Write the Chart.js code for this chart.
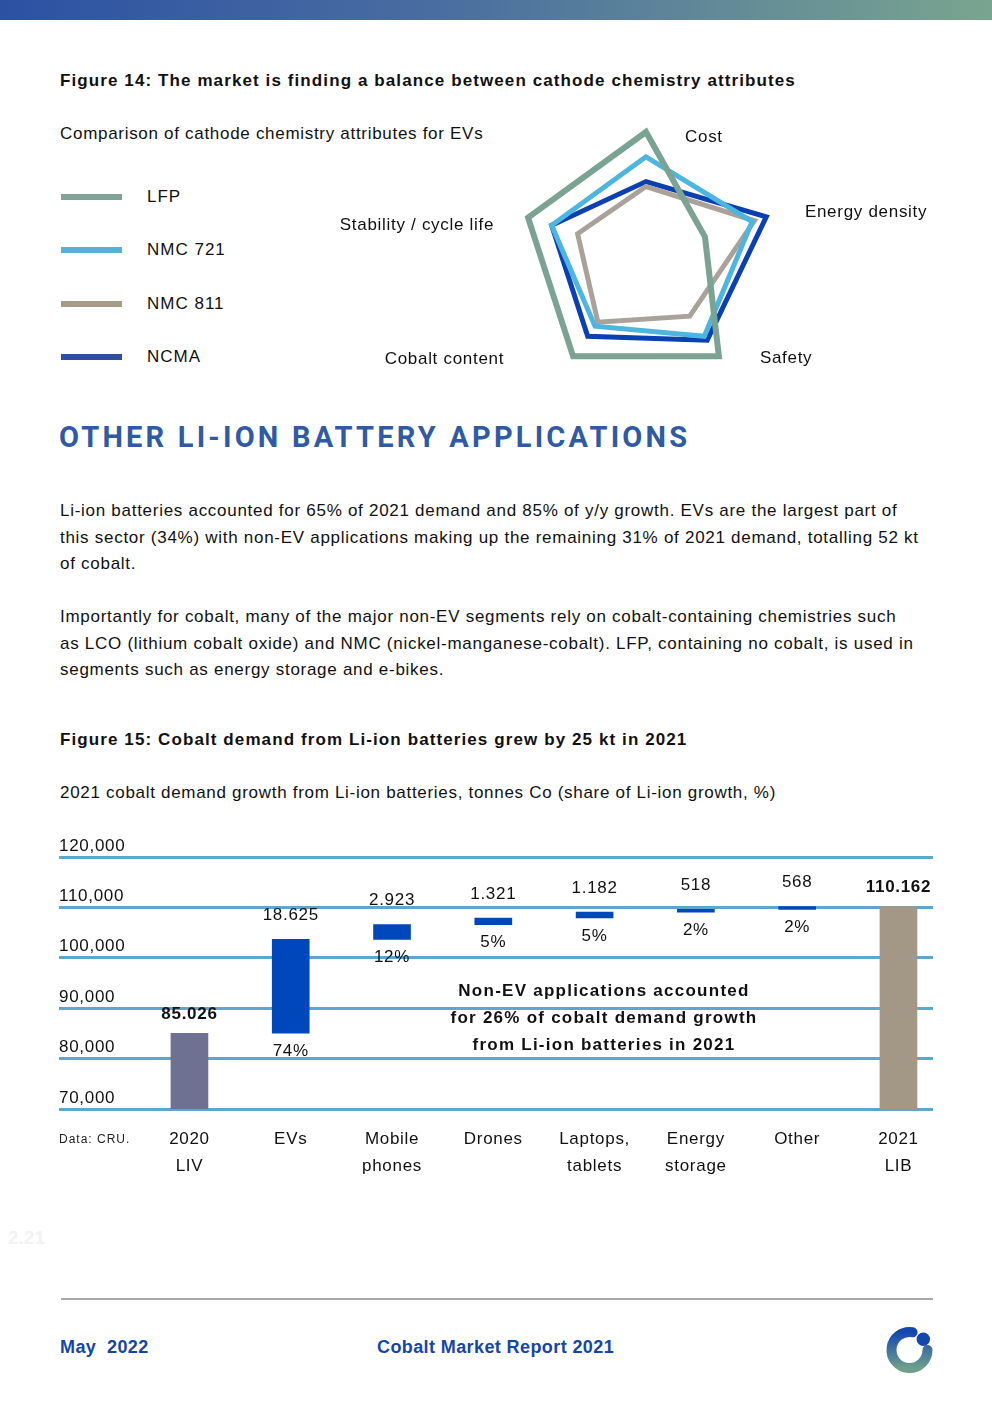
<!DOCTYPE html>
<html><head><meta charset="utf-8">
<script src="https://cdn.jsdelivr.net/npm/chart.js@4.4.1/dist/chart.umd.min.js"></script>
<style>
html,body{margin:0;padding:0;background:#fff;}
body{width:992px;height:1403px;position:relative;overflow:hidden;font-family:"Liberation Sans",Arial,Helvetica,sans-serif;color:#111;}
.t{position:absolute;white-space:pre;line-height:20px;font-size:17px;letter-spacing:0.7px;}
.b{font-weight:bold;letter-spacing:1.1px;}
#topbar{position:absolute;left:0;top:0;width:992px;height:20px;background:linear-gradient(90deg,#2c51a3 0%,#4a6ea0 45%,#79a58f 100%);}
#heading{position:absolute;left:59px;top:420px;font-family:Roboto,"DejaVu Sans",sans-serif;font-weight:700;font-size:29px;line-height:34px;letter-spacing:3.2px;color:#2e5aa6;white-space:pre;}
.para{position:absolute;left:60px;font-size:17px;line-height:26.5px;letter-spacing:0.72px;white-space:pre;}
#legend .sw{position:absolute;left:61px;width:61px;height:6px;}
#legend .lb{position:absolute;left:147px;font-size:17px;line-height:20px;letter-spacing:1px;white-space:pre;}
#radar{position:absolute;left:320px;top:110px;}
#wf{position:absolute;left:0;top:830px;}
#note{position:absolute;left:354px;top:977px;width:500px;text-align:center;font-weight:bold;font-size:17px;line-height:27px;letter-spacing:1.25px;white-space:pre;}
#src{position:absolute;left:59px;top:1132px;font-size:12px;line-height:14px;letter-spacing:1px;white-space:pre;color:#222;}
#faint{position:absolute;left:8px;top:1228px;font-size:19px;font-weight:bold;line-height:20px;color:#f2f2f2;}
#footline{position:absolute;left:61px;top:1298px;width:872px;height:2px;background:#a8a8a8;}
.foot{position:absolute;top:1337px;font-size:18px;line-height:20px;font-weight:bold;letter-spacing:0.4px;color:#1446a8;white-space:pre;}
#logo{position:absolute;left:880px;top:1320px;}
</style></head>
<body>
<div id="topbar"></div>

<div class="t b" style="left:60px;top:71px">Figure 14: The market is finding a balance between cathode chemistry attributes</div>
<div class="t" style="left:60px;top:124px">Comparison of cathode chemistry attributes for EVs</div>

<div id="legend"></div>
<canvas id="radar" width="640" height="290"></canvas>

<div id="heading">OTHER LI-ION BATTERY APPLICATIONS</div>

<div class="para" style="top:498px">Li-ion batteries accounted for 65% of 2021 demand and 85% of y/y growth. EVs are the largest part of
this sector (34%) with non-EV applications making up the remaining 31% of 2021 demand, totalling 52 kt
of cobalt.</div>
<div class="para" style="top:604px">Importantly for cobalt, many of the major non-EV segments rely on cobalt-containing chemistries such
as LCO (lithium cobalt oxide) and NMC (nickel-manganese-cobalt). LFP, containing no cobalt, is used in
segments such as energy storage and e-bikes.</div>

<div class="t b" style="left:60px;top:730px">Figure 15: Cobalt demand from Li-ion batteries grew by 25 kt in 2021</div>
<div class="t" style="left:60px;top:783px">2021 cobalt demand growth from Li-ion batteries, tonnes Co (share of Li-ion growth, %)</div>

<canvas id="wf" width="992" height="378"></canvas>
<div id="note">Non-EV applications accounted
for 26% of cobalt demand growth
from Li-ion batteries in 2021</div>
<div id="src">Data: CRU.</div>
<div id="faint">2.21</div>

<div id="footline"></div>
<div class="foot" style="left:60px">May  2022</div>
<div class="foot" style="left:377px">Cobalt Market Report 2021</div>
<svg id="logo" width="60" height="60" viewBox="880 1320 60 60">
  <defs><linearGradient id="lg" x1="0" y1="0" x2="0" y2="1">
    <stop offset="0" stop-color="#1446b0"/><stop offset="1" stop-color="#6e9f8c"/></linearGradient></defs>
  <path d="M 912.6 1332.3 A 18 18 0 1 0 927.5 1350" fill="none" stroke="url(#lg)" stroke-width="10" stroke-linecap="round"/>
  <circle cx="923.3" cy="1339.3" r="6.7" fill="#1446b0"/>
</svg>

<script>
// ---------- Figure 14 data ----------
const radarAxes = ['Cost', 'Energy density', 'Safety', 'Cobalt content', 'Stability / cycle life'];
const seriesNames = ['LFP', 'NMC 721', 'NMC 811', 'NCMA'];
const lfpValues    = [5.0, 2.5, 5.0, 5.0, 5.0];
const nmc721Values = [4.0, 4.5, 4.0, 3.5, 4.0];
const nmc811Values = [2.8, 4.6, 3.0, 3.3, 2.9];
const ncmaValues   = [3.0, 5.1, 4.2, 4.0, 4.0];

// ---------- Figure 15 data ----------
const categories = [['2020', 'LIV'], ['EVs'], ['Mobile', 'phones'], ['Drones'], ['Laptops,', 'tablets'], ['Energy', 'storage'], ['Other'], ['2021', 'LIB']];
const demand2020 = 85026;
const growthValues = [18625, 2923, 1321, 1182, 518, 568];
const demand2021 = 110162;
const growthShares = [null, 74, 12, 5, 5, 2, 2, null];
const yTickValues = [70000, 80000, 90000, 100000, 110000, 120000];

// ---------- styles ----------
const seriesColors = ['#7aa394', '#4db6e0', '#aaa198', '#0b40b3'];
const legendColors = ['#7fa396', '#58b0d8', '#a89a88', '#2b50a0'];
const seriesWidths = [6, 5, 5, 5];
const legendY = [197, 250, 304, 357];
const axisLabelStyle = [
  {dx: 39, dy: 5, align: 'left'},
  {dx: 41, dy: -5, align: 'left'},
  {dx: 41, dy: 2, align: 'left'},
  {dx: -69, dy: 3, align: 'right'},
  {dx: -34, dy: 8, align: 'right'}
];
const FONT = '"Liberation Sans", Arial, sans-serif';
const spacingPlugin = {id: 'spacing', beforeDraw(chart) { chart.ctx.letterSpacing = '0.7px'; }};

// legend
const legend = document.getElementById('legend');
seriesNames.forEach((n, i) => {
  const sw = document.createElement('div');
  sw.className = 'sw'; sw.style.background = legendColors[i]; sw.style.top = (legendY[i] - 3) + 'px';
  const lb = document.createElement('div');
  lb.className = 'lb'; lb.textContent = n; lb.style.top = (legendY[i] - 10) + 'px';
  legend.appendChild(sw); legend.appendChild(lb);
});

const radarLabelPlugin = {
  id: 'radarLabels',
  afterDraw(chart) {
    const s = chart.scales.r, ctx = chart.ctx;
    ctx.save();
    ctx.letterSpacing = '0.7px';
    ctx.font = '17px ' + FONT; ctx.fillStyle = '#111'; ctx.textBaseline = 'middle';
    radarAxes.forEach((lab, i) => {
      const p = s.getPointPosition(i, s.drawingArea);
      const st = axisLabelStyle[i];
      ctx.textAlign = st.align;
      ctx.fillText(lab, p.x + st.dx, p.y + st.dy);
    });
    ctx.restore();
  }
};

const allSeries = [lfpValues, nmc721Values, nmc811Values, ncmaValues];
new Chart(document.getElementById('radar'), {
  type: 'radar',
  data: {
    labels: radarAxes,
    datasets: allSeries.map((vals, i) => ({
      label: seriesNames[i], data: vals,
      borderColor: seriesColors[i], borderWidth: seriesWidths[i],
      backgroundColor: 'rgba(0,0,0,0)', fill: false,
      pointRadius: 0, borderJoinStyle: 'miter', tension: 0, clip: false
    }))
  },
  options: {
    responsive: false, animation: false, events: [],
    layout: {padding: {left: 202, right: 190, top: 22, bottom: 20}},
    plugins: {legend: {display: false}, tooltip: {enabled: false}},
    scales: {r: {min: 0, max: 5, grid: {display: false}, angleLines: {display: false},
      ticks: {display: false}, pointLabels: {display: false}}}
  },
  plugins: [radarLabelPlugin]
});

// ---------- waterfall ----------
const fmtDot = v => String(v).replace(/\B(?=(\d{3})+(?!\d))/g, '.');
const fmtComma = v => String(v).replace(/\B(?=(\d{3})+(?!\d))/g, ',');
const barPoints = [{x: 0, y: demand2020}];
const barValues = [demand2020];
let running = demand2020;
growthValues.forEach((g, i) => { barPoints.push({x: i + 1, y: [running, running + g]}); barValues.push(g); running += g; });
barPoints.push({x: categories.length - 1, y: demand2021});
barValues.push(demand2021);
const barColors = categories.map((c, i) => i === 0 ? '#6f7192' : (i === categories.length - 1 ? '#a39886' : '#0047bb'));

const wfLabelPlugin = {
  id: 'wfLabels',
  afterDatasetsDraw(chart) {
    const ctx = chart.ctx, meta = chart.getDatasetMeta(0);
    ctx.save();
    ctx.letterSpacing = '0.7px';
    ctx.fillStyle = '#111'; ctx.textAlign = 'center'; ctx.textBaseline = 'middle';
    meta.data.forEach((el, i) => {
      const total = (i === 0 || i === categories.length - 1);
      ctx.font = (total ? 'bold ' : '') + '17px ' + FONT;
      const top = Math.min(el.y, el.base);
      ctx.fillText(fmtDot(barValues[i]), el.x, top - (total ? 19 : 24));
      if (growthShares[i] != null) {
        ctx.font = '17px ' + FONT;
        ctx.fillText(growthShares[i] + '%', el.x, Math.max(el.y, el.base) + 18);
      }
    });
    ctx.restore();
  }
};

new Chart(document.getElementById('wf'), {
  type: 'bar',
  data: {
    datasets: [{data: barPoints, backgroundColor: barColors, barThickness: 37, borderWidth: 0}]
  },
  options: {
    responsive: false, animation: false, events: [],
    layout: {padding: {left: 59, right: 59, top: 27, bottom: 11}},
    plugins: {legend: {display: false}, tooltip: {enabled: false}},
    scales: {
      x: {type: 'linear', offset: false, min: -1.288, max: 7.341,
        grid: {display: false, drawTicks: false, offset: false}, border: {display: false},
        ticks: {stepSize: 1, includeBounds: false, autoSkip: false, maxRotation: 0, minRotation: 0,
          padding: 17, color: '#111', font: {family: FONT, size: 17, lineHeight: '27px'},
          callback: v => (Number.isInteger(v) && v >= 0 && v < categories.length) ? categories[v] : ''}},
      y: {min: yTickValues[0], max: yTickValues[yTickValues.length - 1],
        afterBuildTicks: s => { s.ticks = yTickValues.map(v => ({value: v})); },
        grid: {color: '#5ba7d0', lineWidth: 3, drawTicks: false}, border: {display: false},
        ticks: {mirror: true, padding: 0, labelOffset: -11, color: '#111',
          font: {family: FONT, size: 17}, callback: v => fmtComma(v)}}
    }
  },
  plugins: [spacingPlugin, wfLabelPlugin]
});
</script>
</body></html>
